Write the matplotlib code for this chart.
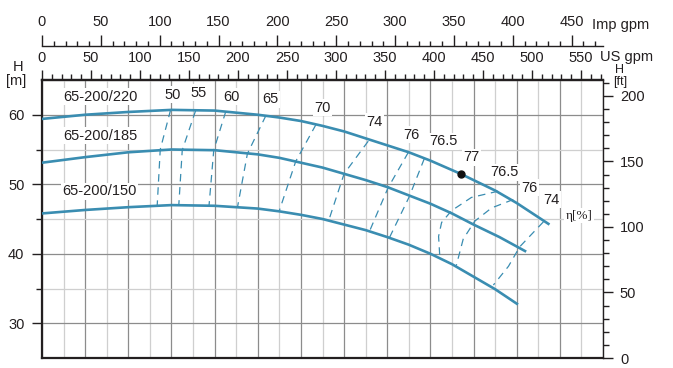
import matplotlib
matplotlib.use('Agg')
import matplotlib.pyplot as plt
from matplotlib.ticker import MultipleLocator, FixedLocator

plt.rcParams['font.family'] = ['Liberation Sans', 'DejaVu Sans']

# ---------------- data ----------------
# pump curves: flow Q [m3/h], head H [m]
q_220 = [0, 10, 20, 30, 40, 50, 55, 60, 65, 70, 75, 80, 85, 90, 97, 100, 105, 110, 117.6]
h_220 = [59.4, 60.0, 60.4, 60.7, 60.6, 60.0, 59.6, 59.1, 58.4, 57.6, 56.6, 55.6, 54.6, 53.4,
         51.5, 50.6, 49.1, 47.3, 44.2]
q_185 = [0, 10, 20, 30, 40, 50, 55, 60, 65, 70, 75, 80, 85, 90, 95, 100, 106, 112.2]
h_185 = [53.1, 53.9, 54.6, 55.0, 54.9, 54.3, 53.8, 53.1, 52.4, 51.5, 50.6, 49.6, 48.4, 47.2,
         45.8, 44.2, 42.4, 40.3]
q_150 = [0, 10, 20, 30, 40, 50, 55, 60, 65, 70, 75, 80, 85, 90, 95, 100, 105, 110.3]
h_150 = [45.8, 46.3, 46.7, 47.0, 46.9, 46.5, 46.1, 45.6, 45.0, 44.2, 43.4, 42.4, 41.3, 40.0,
         38.5, 36.7, 34.9, 32.7]
curve_names = ["65-200/220", "65-200/185", "65-200/150"]

# iso-efficiency lines (rising side)
eff_left_labels = ["50", "55", "60", "65", "70", "74", "76", "76.5"]
eff_left_q = [[29.8, 27.4, 26.7], [35.6, 32.5, 31.7], [42.6, 39.8, 38.7],
              [51.9, 47.6, 45.3], [63.5, 58.8, 55.0], [75.6, 70.0, 66.5],
              [84.9, 80.2, 75.8], [88.6, 85.1, 80.5]]
eff_left_h = [[60.7, 55.0, 47.0], [60.6, 54.9, 47.0], [60.5, 54.9, 46.9],
              [59.9, 54.4, 46.7], [58.6, 53.3, 46.2], [56.2, 51.5, 44.9],
              [54.6, 49.5, 43.1], [53.7, 48.2, 42.3]]
# iso-efficiency lines (falling side)
eff_right_labels = ["76.5", "76", "74"]
eff_right_q = [[105.7, 99.5, 94.9, 92.6, 91.9, 92.2],
               [109.2, 104.2, 100.3, 97.6, 96.0],
               [116.2, 110.7, 108.1, 104.6]]
eff_right_h = [[49.0, 48.1, 46.2, 44.5, 42.5, 39.4],
               [47.8, 46.6, 44.7, 42.1, 38.3],
               [44.6, 41.0, 38.2, 35.5]]
bep_q = [97.0]
bep_h = [51.5]
bep_label = "77"

# axis scales
us_ticks = list(range(0, 551, 50))
imp_ticks = list(range(0, 451, 50))
m_ticks = [30, 40, 50, 60]
ft_ticks = [0, 50, 100, 150, 200]
US_PER_M3H = 4.4029
IMP_PER_M3H = 3.6662

# ---------------- style ----------------
CURVE = '#3a8db1'
INK = '#231f20'
GRID_MAJ = '#8c8c8c'
GRID_MIN = '#cfcfcf'
FS = 10.5

fig = plt.figure(figsize=(6.73, 3.68), dpi=100)
ax = fig.add_axes([42 / 673, 10 / 368, 561 / 673, 278 / 368])
ax.set_xlim(0, 130)
ax.set_ylim(25, 65)

ax.xaxis.set_major_locator(MultipleLocator(10))
ax.xaxis.set_minor_locator(MultipleLocator(5))
ax.yaxis.set_major_locator(FixedLocator(m_ticks))
ax.yaxis.set_minor_locator(FixedLocator([35, 45, 55]))
ax.grid(which='major', color=GRID_MAJ, lw=0.9, zorder=0)
ax.grid(which='minor', color=GRID_MIN, lw=0.9, zorder=0)
ax.set_axisbelow(True)
ax.tick_params(axis='x', which='both', bottom=False, labelbottom=False, top=False)
ax.tick_params(axis='y', which='major', direction='out', length=7.2, width=1.0,
               color=INK, labelsize=FS, pad=5.5, labelcolor=INK)
ax.tick_params(axis='y', which='minor', direction='out', length=4.3, width=1.0, color=INK)
for s in ['left', 'bottom', 'top']:
    ax.spines[s].set_linewidth(1.6)
    ax.spines[s].set_color(INK)
ax.spines['right'].set_linewidth(1.0)
ax.spines['right'].set_color(INK)

# curves
for q, h in [(q_220, h_220), (q_185, h_185), (q_150, h_150)]:
    ax.plot(q, h, color=CURVE, lw=1.9, solid_capstyle='butt', solid_joinstyle='round', zorder=3)

# iso-efficiency
for q, h in zip(eff_left_q, eff_left_h):
    ax.plot(q, h, color=CURVE, lw=0.9, ls=(0, (6, 4.5)), zorder=2)
for q, h in zip(eff_right_q, eff_right_h):
    ax.plot(q, h, color=CURVE, lw=0.9, ls=(0, (6, 4.5)), zorder=2)
ax.plot(bep_q, bep_h, 'o', color='#111111', ms=5, zorder=4)

box = dict(facecolor='white', edgecolor='none', pad=1.0)
name_pos = [(13.5, 62.6), (13.5, 57.0), (13.3, 49.0)]
for name, (x, y) in zip(curve_names, name_pos):
    ax.text(x, y, name, ha='center', va='center', fontsize=FS, color=INK, bbox=box, zorder=5)

left_pos = [(30.2, 62.9), (36.3, 63.2), (44.0, 62.6), (52.9, 62.2), (65.0, 61.0),
            (77.1, 59.0), (85.7, 57.1), (93.0, 56.2)]
for lab, (x, y) in zip(eff_left_labels, left_pos):
    ax.text(x, y, lab, ha='center', va='center', fontsize=FS, color=INK, bbox=box, zorder=5)
ax.text(99.5, 53.9, bep_label, ha='center', va='center', fontsize=FS, color=INK, bbox=box, zorder=5)
right_pos = [(107.1, 51.7), (112.9, 49.5), (118.1, 47.8)]
for lab, (x, y) in zip(eff_right_labels, right_pos):
    ax.text(x, y, lab, ha='center', va='center', fontsize=FS, color=INK, bbox=box, zorder=5)
ax.text(124.5, 45.5, "η[%]", ha='center', va='center', fontsize=FS - 1, color=INK,
        family=['Liberation Serif', 'DejaVu Serif'], bbox=box, zorder=5)

# right axis (ft)
ax2 = ax.twinx()
ax2.set_ylim(0, 212.2)
ax2.yaxis.set_major_locator(FixedLocator(ft_ticks))
ax2.yaxis.set_minor_locator(MultipleLocator(10))
ax2.tick_params(axis='y', which='major', direction='out', length=7.2, width=1.0,
                color=INK, labelsize=FS, pad=5, labelcolor=INK)
ax2.tick_params(axis='y', which='minor', direction='out', length=4.3, width=1.0, color=INK)
for s in ax2.spines.values():
    s.set_visible(False)

# top axis: US gpm
sec_us = ax.secondary_xaxis('top', functions=(lambda q: q * US_PER_M3H,
                                               lambda g: g / US_PER_M3H))
sec_us.xaxis.set_major_locator(FixedLocator(us_ticks))
sec_us.xaxis.set_minor_locator(MultipleLocator(10))
sec_us.tick_params(which='major', direction='out', length=7.2, width=1.0, color=INK,
                   labelsize=FS, pad=3.5, labelcolor=INK)
sec_us.tick_params(which='minor', direction='out', length=4.0, width=1.0, color=INK)
sec_us.spines['top'].set_linewidth(1.6)
sec_us.spines['top'].set_color(INK)

# top axis: Imp gpm
sec_imp = ax.secondary_xaxis(1.122, functions=(lambda q: q * IMP_PER_M3H,
                                                lambda g: g / IMP_PER_M3H))
sec_imp.xaxis.set_major_locator(FixedLocator(imp_ticks))
sec_imp.xaxis.set_minor_locator(MultipleLocator(10))
sec_imp.tick_params(which='major', direction='out', length=7.6, width=1.0, color=INK,
                    labelsize=FS, pad=4.5, labelcolor=INK)
sec_imp.tick_params(which='minor', direction='out', length=3.6, width=1.0, color=INK)
sec_imp.spines['top'].set_linewidth(1.0)
sec_imp.spines['top'].set_color(INK)

# axis titles
fig.text(592 / 673, 1 - 25 / 368, "Imp gpm", ha='left', va='center', fontsize=FS, color=INK)
fig.text(600 / 673, 1 - 57 / 368, "US gpm", ha='left', va='center', fontsize=FS, color=INK)
fig.text(18 / 673, 1 - 67 / 368, "H", ha='center', va='center', fontsize=FS, color=INK)
fig.text(16 / 673, 1 - 81 / 368, "[m]", ha='center', va='center', fontsize=FS, color=INK)
fig.text(620 / 673, 1 - 70 / 368, "H", ha='center', va='center', fontsize=FS - 1.5, color=INK)
fig.text(620 / 673, 1 - 82 / 368, "[ft]", ha='center', va='center', fontsize=FS - 1.5, color=INK)

fig.savefig('out.png', dpi=100)
